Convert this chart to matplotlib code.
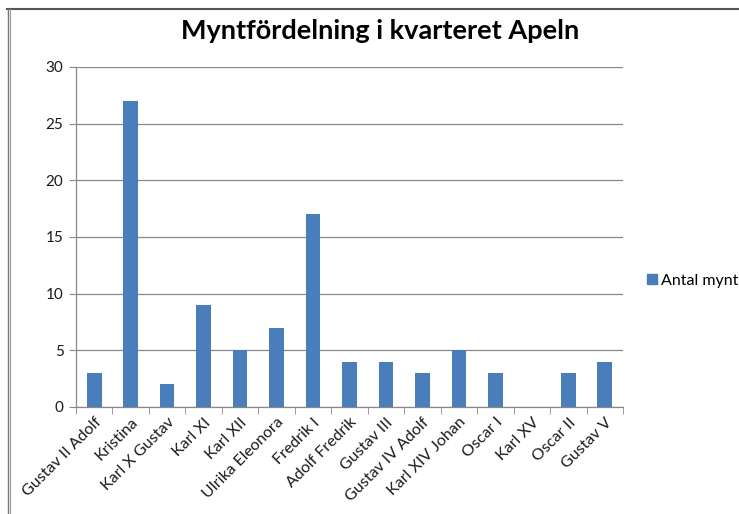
import matplotlib
matplotlib.use("Agg")
import matplotlib.pyplot as plt
from matplotlib.lines import Line2D
import numpy as np

regents = ["Gustav II Adolf", "Kristina", "Karl X Gustav", "Karl XI", "Karl XII",
           "Ulrika Eleonora", "Fredrik I", "Adolf Fredrik", "Gustav III",
           "Gustav IV Adolf", "Karl XIV Johan", "Oscar I", "Karl XV", "Oscar II",
           "Gustav V"]
coins = [3, 27, 2, 9, 5, 7, 17, 4, 4, 3, 5, 3, 0, 3, 4]
y_ticks = [0, 5, 10, 15, 20, 25, 30]

plt.rcParams['font.family'] = ['Lato', 'DejaVu Sans']

W, H = 739, 514
fig = plt.figure(figsize=(W / 100, H / 100), dpi=100)
fig.patch.set_facecolor("white")

# plot area in pixel terms
left, right, top, bottom = 76, 623, 67, 407
ax = fig.add_axes([left / W, 1 - bottom / H, (right - left) / W, (bottom - top) / H])

x = np.arange(len(regents))
bars = ax.bar(x, coins, width=0.4, color="#4A7EBB", label="Antal mynt", zorder=3)

ax.set_xlim(-0.5, len(regents) - 0.5)
ax.set_ylim(0, 30)
ax.set_yticks(y_ticks)
ax.set_yticklabels([str(v) for v in y_ticks], fontsize=11, color="#1a1a1a")
ax.grid(axis="y", color="#888888", linewidth=0.9, zorder=0)

for s in ["top", "right"]:
    ax.spines[s].set_visible(False)
for s in ["left", "bottom"]:
    ax.spines[s].set_color("#888888")
    ax.spines[s].set_linewidth(0.9)

ax.tick_params(axis="y", length=5, color="#888888", pad=4)
# category labels at bar centres, tick marks between categories
ax.set_xticks(x)
ax.set_xticklabels(regents, rotation=45, ha="right", rotation_mode="anchor",
                   fontsize=11.5, color="#1a1a1a")
ax.tick_params(axis="x", length=0, pad=6)
ax.set_xticks(np.arange(len(regents) + 1) - 0.5, minor=True)
ax.tick_params(axis="x", which="minor", length=5, color="#888888")

fig.text(380 / W, 1 - 31 / H, "Myntfördelning i kvarteret Apeln",
         ha="center", va="center", fontsize=19.5, fontweight="bold", color="black")

handle = plt.Rectangle((0, 0), 1, 1, color="#4A7EBB")
fig.legend([handle], ["Antal mynt"], loc="center left",
           bbox_to_anchor=(647 / W, 1 - 281 / H), frameon=False,
           borderpad=0, borderaxespad=0,
           fontsize=11.5, handlelength=0.6, handleheight=0.6, handletextpad=0.25)

# chart border (top and left edges visible)
fig.add_artist(Line2D([7 / W, 1], [1 - 8.5 / H, 1 - 8.5 / H], color="#555555", linewidth=1.5,
                      transform=fig.transFigure))
fig.add_artist(Line2D([7.5 / W, 7.5 / W], [0, 1 - 8.5 / H], color="#777777", linewidth=1.0,
                      transform=fig.transFigure))
fig.add_artist(Line2D([10 / W, 10 / W], [0, 1 - 8.5 / H], color="#999999", linewidth=0.8,
                      transform=fig.transFigure))

fig.savefig("out.png", dpi=100, facecolor="white")
